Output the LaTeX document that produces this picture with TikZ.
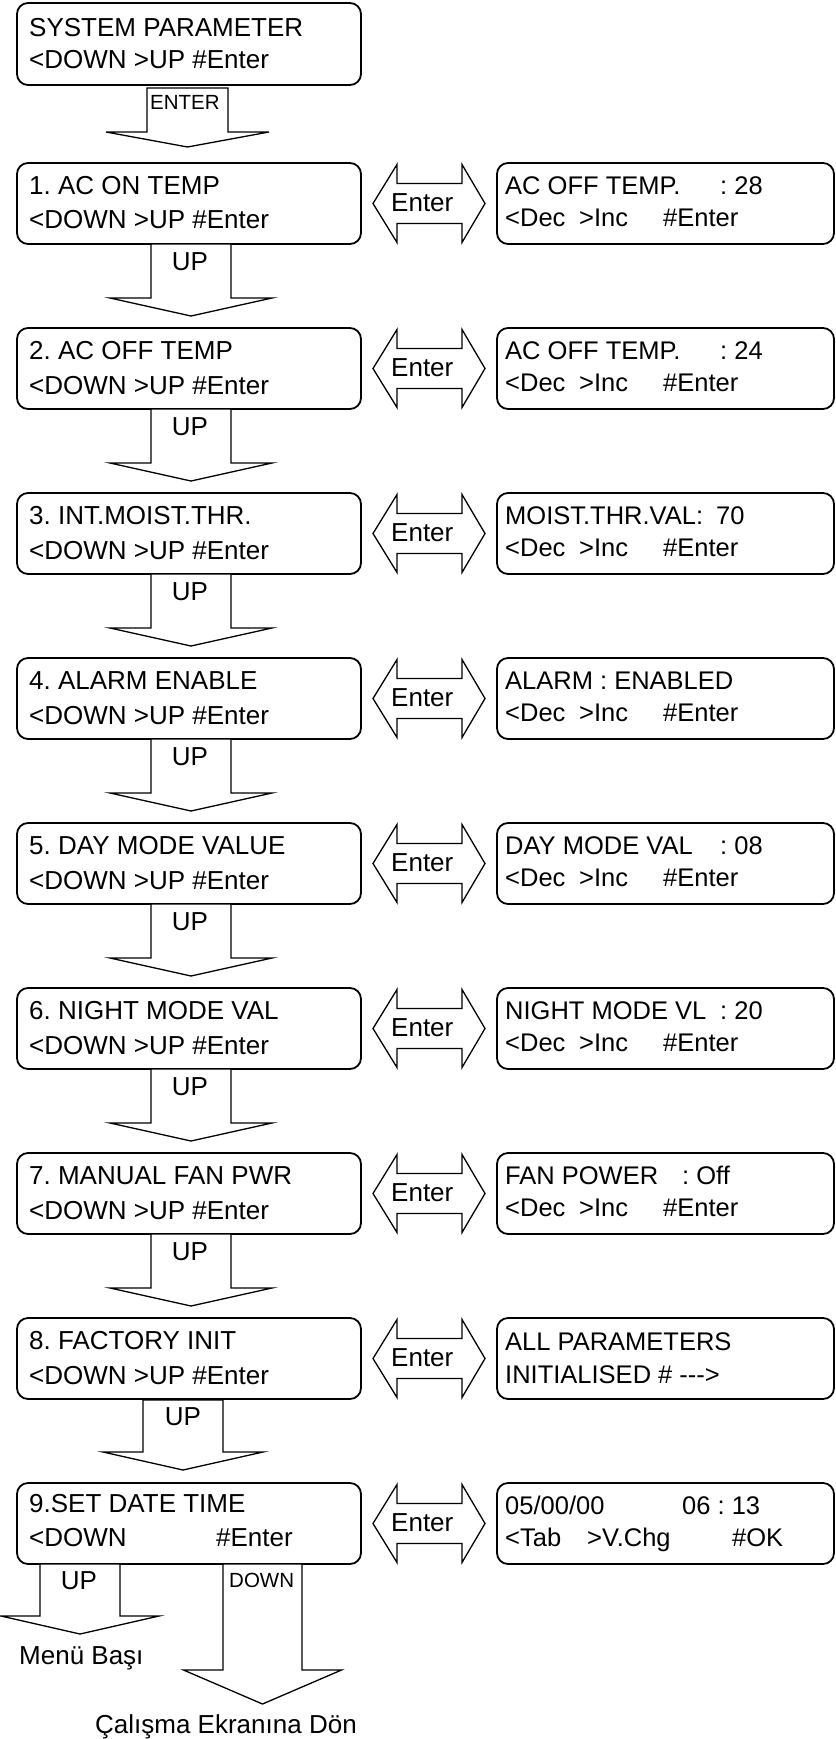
\documentclass[tikz,border=0pt]{standalone}
\usepackage{fontspec}
\setmainfont{Liberation Sans}
\usetikzlibrary{calc}
\frenchspacing
\tikzset{
  lcd/.style={draw, line width=1.8pt, rounded corners=11pt, minimum width=344pt, minimum height=81pt, anchor=north west, inner sep=0pt, outer sep=0pt},
  rcd/.style={lcd, minimum width=337pt},
  txt/.style={anchor=base west, inner sep=0pt, font=\fontsize{26}{30}\selectfont},
  rtxt/.style={txt, font=\fontsize{25.5}{30}\selectfont},
  lbl/.style={anchor=base, inner sep=0pt, font=\fontsize{26}{30}\selectfont},
  elbl/.style={anchor=base west, inner sep=0pt, font=\fontsize{26}{30}\selectfont},
  slbl/.style={anchor=base west, inner sep=0pt, font=\fontsize{20.5}{24}\selectfont},
  blk/.style={draw, line width=1.3pt, fill=white, line join=miter},
}
% block arrow pointing down: #1 node, #2 x offset of shaft centre from its south west corner,
% #3 half shaft width, #4 half head width, #5 shaft length, #6 head depth, #7 gap below node
\newcommand\blkdown[7]{%
  \draw[blk] let \p1=($(#1.south west)+(#2,#7)$) in
    (\x1-#3pt,\y1) -- (\x1-#3pt,\y1-#5pt) -- (\x1-#4pt,\y1-#5pt) -- (\x1,\y1-#5pt-#6pt)
    -- (\x1+#4pt,\y1-#5pt) -- (\x1+#3pt,\y1-#5pt) -- (\x1+#3pt,\y1) -- cycle;}
% double block arrow between two nodes
\newcommand\blkboth[2]{%
  \draw[blk] let \p1=(#1.east), \p2=(#2.west) in
    (\x1+12pt,\y1) -- (\x1+36pt,\y1+39pt) -- (\x1+36pt,\y1+20pt) -- (\x2-35pt,\y1+20pt)
    -- (\x2-35pt,\y1+39pt) -- (\x2-12pt,\y1) -- (\x2-35pt,\y1-39pt) -- (\x2-35pt,\y1-20pt)
    -- (\x1+36pt,\y1-20pt) -- (\x1+36pt,\y1-39pt) -- cycle;}
\begin{document}
\begin{tikzpicture}[x=1pt,y=-1pt]
\useasboundingbox (0,0) rectangle (835,1739);
% top screen
\node[lcd, minimum height=82pt] (S) at (17,3) {};
\blkdown{S}{170.5}{40.5}{81.5}{44}{15}{3}
\node[txt] (Sa) at ($(S.north west)+(12,34)$) {SYSTEM PARAMETER};
\node[txt] (Sb) at ($(S.north west)+(12,66)$) {<DOWN >UP \#Enter};
\node[slbl] (Sent) at ($(S.south west)+(133,25)$) {ENTER};
% rows 1..7
\foreach \r/\ti/\ro in {
  1/{1. AC ON TEMP}/{\makebox[215pt][l]{AC OFF TEMP.}: 28},
  2/{2. AC OFF TEMP}/{\makebox[215pt][l]{AC OFF TEMP.}: 24},
  3/{3. INT.MOIST.THR.}/{MOIST.THR.VAL:\hspace{13pt}70},
  4/{4. ALARM ENABLE}/{ALARM : ENABLED},
  5/{5. DAY MODE VALUE}/{\makebox[215pt][l]{DAY MODE VAL}: 08},
  6/{6. NIGHT MODE VAL}/{\makebox[215pt][l]{NIGHT MODE VL}: 20},
  7/{7. MANUAL FAN PWR}/{\makebox[177pt][l]{FAN POWER}: Off}}{
  \pgfmathsetmacro\T{163+165*(\r-1)}
  \node[lcd] (L\r) at (17,\T) {};
  \node[rcd] (R\r) at (497,\T) {};
  \blkboth{L\r}{R\r}
  \blkdown{L\r}{174}{40}{81}{54}{18}{0}
  \node[txt] (L\r-a) at ($(L\r.north west)+(12,31)$) {\ti};
  \node[txt] (L\r-b) at ($(L\r.north west)+(12,66)$) {<DOWN >UP \#Enter};
  \node[rtxt] (R\r-a) at ($(R\r.north west)+(8,31)$) {\ro};
  \node[rtxt] (R\r-b) at ($(R\r.north west)+(8,63)$) {\makebox[74pt][l]{<Dec}\makebox[84pt][l]{>Inc}\#Enter};
  \node[elbl] (E\r) at ($(L\r.east)+(30,8)$) {Enter};
  \node[lbl] (U\r) at ($(L\r.south west)+(173,26)$) {UP};
}
% row 8
\node[lcd] (L8) at (17,1318) {};
\node[rcd] (R8) at (497,1318) {};
\blkboth{L8}{R8}
\blkdown{L8}{166}{40}{80}{52}{18}{1}
\node[txt] (L8-a) at ($(L8.north west)+(12,31)$) {8. FACTORY INIT};
\node[txt] (L8-b) at ($(L8.north west)+(12,66)$) {<DOWN >UP \#Enter};
\node[rtxt] (R8-a) at ($(R8.north west)+(8,32)$) {ALL PARAMETERS};
\node[rtxt] (R8-b) at ($(R8.north west)+(8,65)$) {INITIALISED \# -{}-{}->};
\node[elbl] (E8) at ($(L8.east)+(30,8)$) {Enter};
\node[lbl] (U8) at ($(L8.south west)+(166,26)$) {UP};
% row 9
\node[lcd] (L9) at (17,1483) {};
\node[rcd] (R9) at (497,1483) {};
\blkboth{L9}{R9}
\blkdown{L9}{63}{40}{79}{52}{18}{0}
\blkdown{L9}{245.5}{39.5}{79}{106}{34}{0}
\node[txt] (L9-a) at ($(L9.north west)+(12,29)$) {9.SET DATE TIME};
\node[txt] (L9-b) at ($(L9.north west)+(12,63)$) {\makebox[187pt][l]{<DOWN}\#Enter};
\node[rtxt] (R9-a) at ($(R9.north west)+(8,31)$) {\makebox[177pt][l]{05/00/00}06 : 13};
\node[rtxt] (R9-b) at ($(R9.north west)+(8,63)$) {\makebox[82pt][l]{<Tab}\makebox[145pt][l]{>V.Chg}\#OK};
\node[elbl] (E9) at ($(L9.east)+(30,8)$) {Enter};
\node[lbl] (U9) at ($(L9.south west)+(62,25)$) {UP};
\node[slbl] (D9) at ($(L9.south west)+(212,23)$) {DOWN};
\node[txt] (menu) at ($(L9.south west)+(2,100)$) {Menü Başı};
\node[txt] (calis) at ($(L9.south west)+(78,169)$) {Çalışma Ekranına Dön};
\end{tikzpicture}
\end{document}
